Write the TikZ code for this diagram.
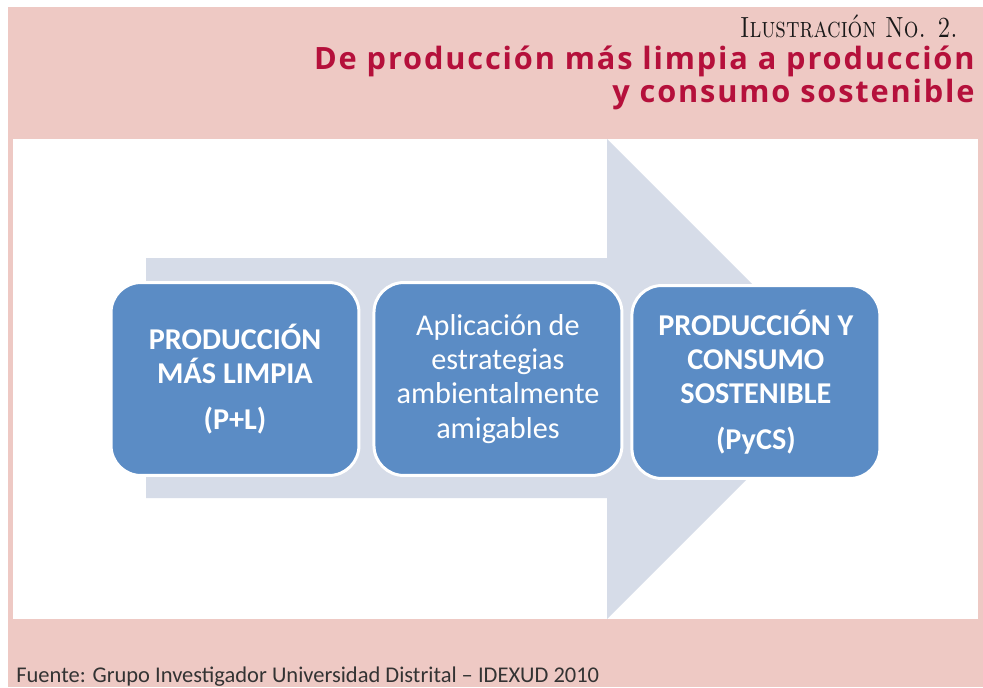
\documentclass[tikz,border=0pt]{standalone}
\usepackage{graphicx}
\usepackage{fontspec}
\newfontfamily\boxfont{Carlito}
\newfontfamily\titlefont[LetterSpace=6]{Open Sans}
\usetikzlibrary{positioning}

\definecolor{rosa}{RGB}{238,201,196}
\definecolor{grisazul}{RGB}{214,220,232}
\definecolor{azulcaja}{RGB}{91,140,197}
\definecolor{rojotitulo}{RGB}{181,16,59}

\tikzset{
	caja/.style={draw=white, line width=1.7pt, fill=azulcaja,
		rounded corners=0.6cm, minimum width=4.96cm, minimum height=3.86cm,
		text=white, align=center, inner sep=0pt,
		font=\boxfont\fontsize{17.2}{19.4}\selectfont},
	cajanegrita/.style={caja, font=\boxfont\bfseries\fontsize{17.2}{19.4}\selectfont},
	titulo/.style={anchor=base east, inner sep=0pt, text=rojotitulo,
		font=\titlefont\bfseries\fontsize{17.5}{19}\selectfont}
}

\begin{document}
\begin{tikzpicture}[x=0.02cm, y=-0.02cm]
	\useasboundingbox (0,0) rectangle (983,687);
	% fondo
	\fill[rosa] (8,7) rectangle (983,687);
	\fill[white] (13,139) rectangle (978,619);
	
	% flecha
	\fill[grisazul]
		(146,258)--(607,258)--(607,139)--(847,379)--(607,619)--(607,498)--(146,498)--cycle;
	
	\node[cajanegrita] (pml) at (235,379) {PRODUCCIÓN\\MÁS LIMPIA\\[7pt](P+L)};
	\node[caja, right=0.24cm of pml] (estrategias) {Aplicación de\\estrategias\\ambientalmente\\amigables};
	\node[cajanegrita, right=0.14cm of estrategias, yshift=-0.06cm] (pycs)
		{PRODUCCIÓN Y\\CONSUMO\\SOSTENIBLE\\[7pt](PyCS)};
	
	\node[anchor=base east, inner sep=0pt, font=\fontsize{16.6}{20}\selectfont, text=black!90]
		(ilustracion) at (958,37) {\scalebox{0.79}[1]{\textsc{Ilustración No. 2.}}};
	\node[titulo] (titulo1) at (975,69) {De producción más limpia a producción};
	\node[titulo] (titulo2) at (975,102) {y consumo sostenible};
	
	\node[anchor=base west, inner sep=0pt, text=black!80,
		font=\boxfont\fontsize{12.8}{15}\selectfont] (fuente) at (16,682)
		{Fuente: Grupo Investigador Universidad Distrital – IDEXUD 2010};
\end{tikzpicture}
\end{document}
